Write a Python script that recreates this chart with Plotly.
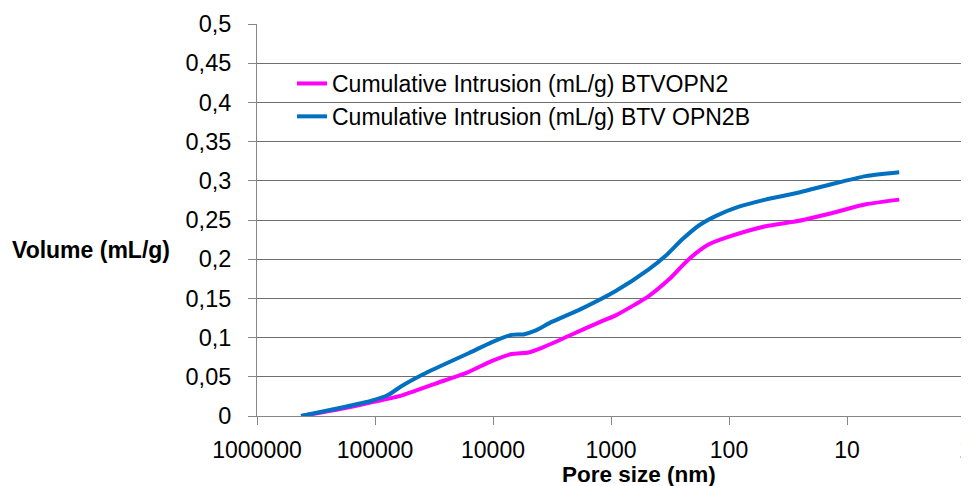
import plotly.graph_objects as go

# Pore size (nm) and cumulative intrusion (mL/g)
pore_btvopn2 = [423000, 182000, 107000, 59800, 31200, 16200, 10300, 6950, 5010, 3860, 2290, 1194,
                920, 479, 324, 219, 148, 94, 49, 25.5, 13.3, 6.92, 3.61]
vol_btvopn2 = [0.0, 0.0098, 0.0174, 0.026, 0.041, 0.056, 0.070, 0.079, 0.081, 0.087, 0.102, 0.121,
               0.128, 0.153, 0.174, 0.200, 0.219, 0.230, 0.242, 0.249, 0.259, 0.270, 0.276]

pore_btvopn2b = [423000, 182000, 107000, 77600, 59800, 40500, 25800, 16100, 10300, 6950, 5530, 4440, 3180,
                 1766, 920, 479, 346, 250, 180, 130, 82.4, 49, 25.5, 13.3, 6.92, 3.61]
vol_btvopn2b = [0.0, 0.0115, 0.0195, 0.0267, 0.038, 0.052, 0.066, 0.080, 0.094, 0.1035, 0.104, 0.1085, 0.120,
                0.137, 0.159, 0.187, 0.204, 0.225, 0.243, 0.255, 0.267, 0.276, 0.285, 0.296, 0.306, 0.311]

x_tickvals = [1000000, 100000, 10000, 1000, 100, 10, 1]
x_ticktext = ["1000000", "100000", "10000", "1000", "100", "10", ""]
last_tick_value = 1
last_tick_text = "1"
y_tickvals = [0, 0.05, 0.1, 0.15, 0.2, 0.25, 0.3, 0.35, 0.4, 0.45, 0.5]

FONT = "Liberation Sans"
W, H = 961, 478
ML, MR, MT, MB = 249, 4, 16, 70
PW, PH = W - ML - MR, H - MT - MB
OFF = 8  # page body margin


def px(x):
    return (x - OFF - ML) / PW


def py(y):
    return (H - MB - (y - OFF)) / PH


fig = go.Figure()
fig.add_trace(go.Scatter(x=pore_btvopn2, y=vol_btvopn2, mode="lines", legendgroup="a",
                         name="Cumulative Intrusion (mL/g) BTVOPN2",
                         line=dict(color="#FF00FF", width=4, shape="spline", smoothing=0.6)))
fig.add_trace(go.Scatter(x=pore_btvopn2b, y=vol_btvopn2b, mode="lines", legendgroup="b",
                         name="Cumulative Intrusion (mL/g) BTV OPN2B",
                         line=dict(color="#0070C0", width=4, shape="spline", smoothing=0.6)))

fig.update_layout(
    width=W, height=H,
    margin=dict(l=ML, r=MR, t=MT, b=MB),
    paper_bgcolor="white", plot_bgcolor="white",
    separators=", ",
    font=dict(family=FONT, size=23, color="black"),
    showlegend=True,
    legend=dict(x=px(292), y=py(62), xanchor="left", yanchor="top",
                bgcolor="rgba(0,0,0,0)", font=dict(size=23, family=FONT),
                tracegroupgap=0),
    xaxis=dict(type="log", range=[6, 0], tickvals=x_tickvals, ticktext=x_ticktext,
               showgrid=False, showline=True, linecolor="#868686", linewidth=1,
               ticks="outside", ticklen=8, tickcolor="#868686", ticklabelstandoff=5,
               tickfont=dict(size=23, family=FONT), zeroline=False),
    yaxis=dict(range=[0, 0.5], tickvals=y_tickvals, showgrid=True, gridcolor="#6e6e6e", gridwidth=1,
               showline=True, linecolor="#868686", linewidth=1,
               ticks="outside", ticklen=8, tickcolor="#868686", ticklabelstandoff=12,
               tickfont=dict(size=23.5, family=FONT), zeroline=False),
    annotations=[
        dict(text="<b>Volume (mL/g)</b>", x=px(91), y=py(250), xref="paper", yref="paper",
             showarrow=False, xanchor="center", yanchor="middle", font=dict(size=23, family=FONT)),
        dict(text="<b>Pore size (nm)</b>", x=px(639), y=py(474), xref="paper", yref="paper",
             showarrow=False, xanchor="center", yanchor="middle", font=dict(size=22.5, family=FONT)),
        dict(text=last_tick_text, x=0, y=py(450), xref="x", yref="paper",
             showarrow=False, xanchor="center", yanchor="middle", font=dict(size=23, family=FONT)),
    ],
)

fig.write_html("out.html")
